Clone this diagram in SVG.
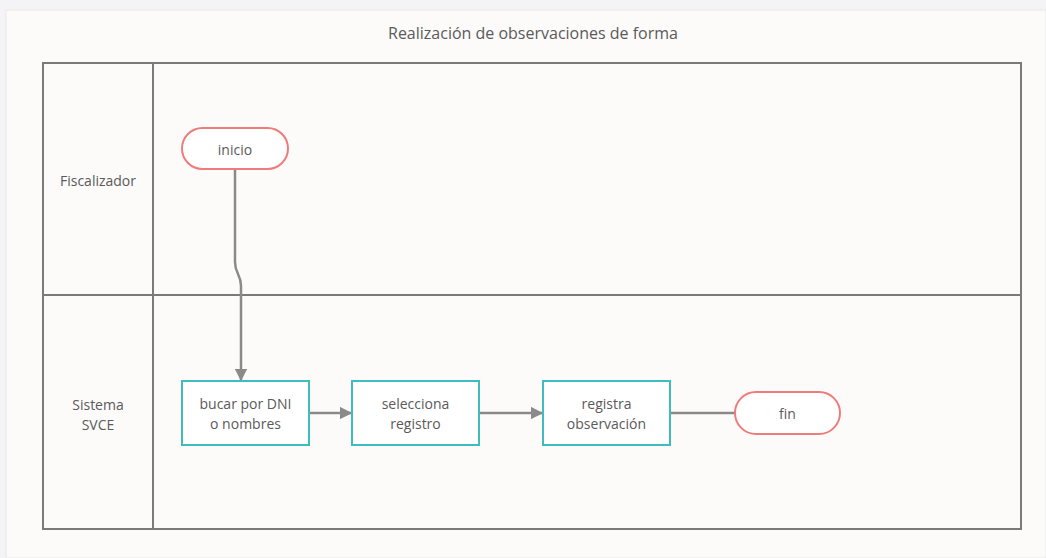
<svg xmlns="http://www.w3.org/2000/svg" width="1046" height="558" viewBox="0 0 1046 558">
<style>
text{font-family:"Open Sans","Noto Sans",sans-serif;font-size:14px;fill:#5a5a5a;text-anchor:middle;dominant-baseline:central}
.lane{fill:none;stroke:#7a7a7a;stroke-width:2}
.term{fill:#fff;stroke:#f07b7b;stroke-width:2}
.proc{fill:#fff;stroke:#3fbcbc;stroke-width:2}
.conn{fill:none;stroke:#8a8a8a;stroke-width:2.5}
</style>
<defs>
<marker id="arr" viewBox="0 0 10 10" refX="9" refY="5" markerWidth="5" markerHeight="5" markerUnits="strokeWidth" orient="auto">
<path d="M0,0 L10,5 L0,10 z" fill="#8a8a8a"/>
</marker>
</defs>
<rect x="0" y="0" width="1046" height="558" fill="#f4f4f6"/>
<rect x="6" y="10" width="1040" height="548" fill="#fcfbfa" stroke="#e8e8e8" stroke-width="1"/>
<text x="533" y="33" style="font-size:16px">Realización de observaciones de forma</text>
<g id="pool">
<rect x="43" y="63" width="978" height="466" fill="#fff" class="lane"/>
<line x1="153" y1="63" x2="153" y2="529" class="lane"/>
<line x1="43" y1="295" x2="1021" y2="295" class="lane"/>
</g>
<g id="lane-fiscalizador"><text x="98" y="180">Fiscalizador</text></g>
<g id="lane-sistema"><text x="98" y="404">Sistema</text><text x="98" y="424">SVCE</text></g>
<g id="connectors">
<path class="conn" d="M235,169 L235,262 Q235,268 238,274 Q241,280 241,286 L241,380" marker-end="url(#arr)"/>
<path class="conn" d="M309,413 L351,413" marker-end="url(#arr)"/>
<path class="conn" d="M479,413 L542,413" marker-end="url(#arr)"/>
<path class="conn" d="M670,413 L735,413"/>
</g>
<g id="inicio"><rect x="182" y="128" width="106" height="41" rx="20.5" class="term"/><text x="235" y="149">inicio</text></g>
<g id="bucar"><rect x="182" y="381" width="127" height="64" class="proc"/><text x="245.5" y="403">bucar por DNI</text><text x="245.5" y="423">o nombres</text></g>
<g id="selecciona"><rect x="352" y="381" width="127" height="64" class="proc"/><text x="415.5" y="403">selecciona</text><text x="415.5" y="423">registro</text></g>
<g id="registra"><rect x="543" y="381" width="127" height="64" class="proc"/><text x="606.5" y="403">registra</text><text x="606.5" y="423">observación</text></g>
<g id="fin"><rect x="735" y="392" width="105" height="42" rx="21" class="term"/><text x="787.5" y="413">fin</text></g>
</svg>
